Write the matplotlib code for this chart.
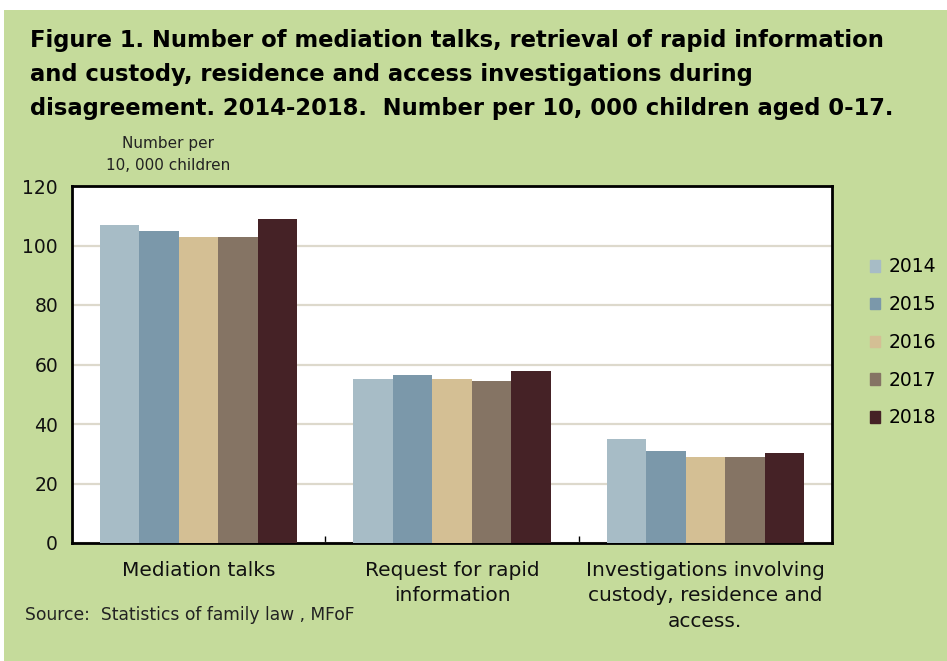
import matplotlib
matplotlib.use("Agg")
import matplotlib.pyplot as plt
import matplotlib.patches as mpatches
import numpy as np

# data
categories = ["Mediation talks", "Request for rapid\ninformation",
              "Investigations involving\ncustody, residence and\naccess."]
years = ["2014", "2015", "2016", "2017", "2018"]
v2014 = [107, 55.1, 35.0]
v2015 = [105, 56.5, 30.9]
v2016 = [103, 55.1, 28.9]
v2017 = [103, 54.5, 28.9]
v2018 = [109, 57.8, 30.3]
series = [v2014, v2015, v2016, v2017, v2018]
colors = ["#A7BCC6", "#7B98AA", "#D4BF94", "#857464", "#452226"]

titulo = ("Figure 1. Number of mediation talks, retrieval of rapid information\n"
          "and custody, residence and access investigations during\n"
          "disagreement. 2014-2018.  Number per 10, 000 children aged 0-17.")

bg = "#C5DB9B"
fig = plt.figure(figsize=(9.47, 6.61), dpi=100)
fig.patch.set_facecolor("white")
fig.add_artist(mpatches.Rectangle((4 / 947, 0), 1, 1 - 10 / 661, transform=fig.transFigure,
                                  facecolor=bg, edgecolor="none", zorder=-10))

ax = fig.add_axes([72 / 947, 1 - 543 / 661, 760 / 947, 357 / 661])
ax.set_facecolor("white")

x = np.arange(len(categories))
n = len(series)
group_w = 0.78
bw = group_w / n
for i, (vals, c, yr) in enumerate(zip(series, colors, years)):
    ax.bar(x - group_w / 2 + bw * (i + 0.5), vals, width=bw, color=c, label=yr, zorder=3)

ax.set_xlim(-0.5, len(categories) - 0.5)
ax.set_ylim(0, 120)
ax.set_yticks(np.arange(0, 121, 20))
ax.yaxis.grid(True, color="#DDD9CC", linewidth=1.6, zorder=0)
ax.set_axisbelow(True)
for s in ax.spines.values():
    s.set_linewidth(2)
    s.set_color("black")

ax.tick_params(axis="y", length=0, pad=10, labelsize=13.5)
ax.set_xticks(x)
ax.set_xticklabels(categories, fontsize=14.5, linespacing=1.42)
ax.tick_params(axis="x", which="major", length=0, pad=13)
ax.set_xticks(np.arange(0.5, len(categories) - 1, 1), minor=True)
ax.tick_params(axis="x", which="minor", direction="in", length=5, width=1)
for lbl in ax.get_yticklabels() + ax.get_xticklabels():
    lbl.set_color("#111111")

# legend
handles = [mpatches.Patch(color=c) for c in colors]
leg = fig.legend(handles, years, loc="upper left", bbox_to_anchor=(862 / 947, 1 - 250 / 661),
                 frameon=False, fontsize=13.5, handlelength=0.55, handleheight=0.55,
                 handletextpad=0.45, labelspacing=1.0, borderaxespad=0)

fig.text(30 / 947, 1 - 29 / 661, titulo, fontsize=16.3, fontweight="bold",
         family="DejaVu Sans", va="top", ha="left", linespacing=1.62)
fig.text(168 / 947, 1 - 136 / 661, "Number per\n10, 000 children", fontsize=11,
         ha="center", va="top", color="#222222", linespacing=1.55)
fig.text(25 / 947, 1 - 615 / 661, "Source:  Statistics of family law , MFoF",
         fontsize=12.3, ha="left", va="center", color="#222222")

plt.savefig("out.png", dpi=100, facecolor=fig.get_facecolor())
